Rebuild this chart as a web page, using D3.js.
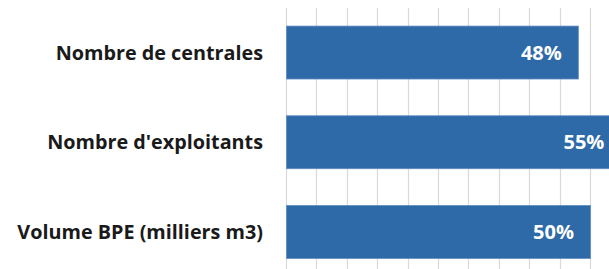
<!DOCTYPE html>
<html>
<head>
<meta charset="utf-8">
<script src="https://cdn.jsdelivr.net/npm/d3@7"></script>
<style>
  html, body { margin: 0; padding: 0; background: #fff; }
  svg { display: block; }
</style>
</head>
<body>
<div id="chart"></div>
<script>
// données
const categories = ["Nombre de centrales", "Nombre d'exploitants", "Volume BPE (milliers m3)"];
const values = [0.48, 0.55, 0.50];
const gridTicks = [0, 0.05, 0.10, 0.15, 0.20, 0.25, 0.30, 0.35, 0.40, 0.45, 0.50, 0.55, 0.60];

const W = 609, H = 269;
const plotLeft = 286, plotTop = 7.7, step = 89.7;

const svg = d3.select("#chart").append("svg")
    .attr("width", W)
    .attr("height", H);

const x = d3.scaleLinear()
    .domain([0, 0.5])
    .range([plotLeft, 590]);

const y = d3.scaleBand()
    .domain(categories)
    .range([plotTop, plotTop + step * categories.length])
    .paddingInner(0.41)
    .paddingOuter(0.205);

// grille verticale
svg.append("g")
    .selectAll("line")
    .data(gridTicks)
    .join("line")
    .attr("x1", d => Math.round(x(d)) + 0.5)
    .attr("x2", d => Math.round(x(d)) + 0.5)
    .attr("y1", plotTop)
    .attr("y2", plotTop + step * categories.length)
    .attr("stroke", "#d9d9d9")
    .attr("stroke-width", 1.2);

// barres
svg.append("g")
    .selectAll("rect")
    .data(values)
    .join("rect")
    .attr("x", x(0) + 0.5)
    .attr("y", (d, i) => y(categories[i]))
    .attr("width", d => x(d) - x(0))
    .attr("height", y.bandwidth())
    .attr("fill", "#2e6aa8")
    .attr("stroke", "#5f8cc3")
    .attr("stroke-width", 0.8);

// étiquettes de valeur
svg.append("g")
    .selectAll("text")
    .data(values)
    .join("text")
    .attr("x", d => x(d) - 16)
    .attr("y", (d, i) => y(categories[i]) + y.bandwidth() / 2)
    .attr("dy", "0.36em")
    .attr("text-anchor", "end")
    .attr("fill", "#ffffff")
    .style("font-family", "'Open Sans', sans-serif")
    .style("font-weight", "bold")
    .style("font-size", "20px")
    .text(d => d3.format(".0%")(d));

// catégories
svg.append("g")
    .selectAll("text")
    .data(categories)
    .join("text")
    .attr("x", 263)
    .attr("y", d => y(d) + y.bandwidth() / 2)
    .attr("dy", "0.36em")
    .attr("text-anchor", "end")
    .attr("fill", "#1a1a1a")
    .style("font-family", "'Open Sans', sans-serif")
    .style("font-weight", "bold")
    .style("font-size", "19.8px")
    .text(d => d);
</script>
</body>
</html>
